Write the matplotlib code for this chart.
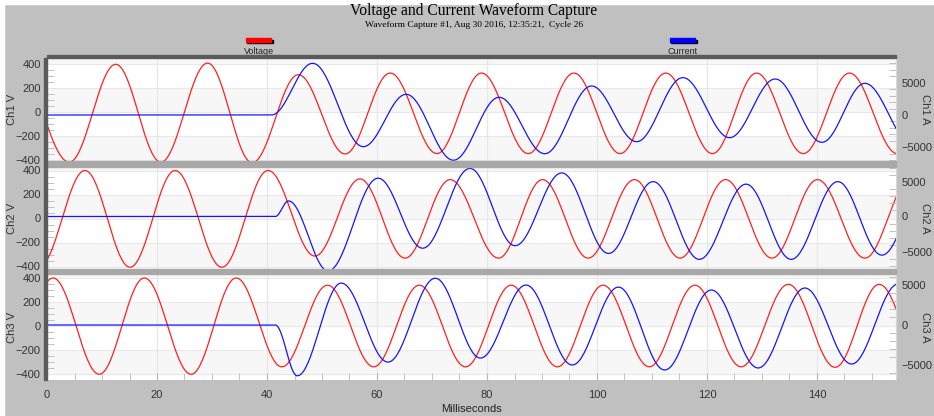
import numpy as np
import matplotlib
matplotlib.use("Agg")
import matplotlib.pyplot as plt
from matplotlib.patches import Rectangle
from matplotlib.ticker import MultipleLocator

plt.rcParams['font.family'] = ['Liberation Sans', 'DejaVu Sans']

ch1_v_t = [-5.5, 4.05, 12.5, 20.7, 29.2, 37.3, 45.7, 54.2, 62.4, 70.9, 79.0, 87.5,
           95.8, 104.2, 112.5, 121.0, 129.0, 137.5, 145.9, 154.6, 163.0]
ch1_v = [400, -415, 400, -415, 410, -420, 313, -347, 327, -344, 327, -344,
         327, -344, 327, -344, 327, -344, 327, -344, 327]
ch1_i_t = [0, 40.8, 48.3, 57.5, 65.3, 73.9, 82.2, 90.5, 99.0, 107.2, 115.6,
           124.1, 132.4, 140.9, 148.7, 157.3]
ch1_i = [0, 0, 8000, -4900, 3200, -7000, 2740, -5990, 4490, -4130, 5780,
         -3510, 5570, -4230, 4900, -4500]

ch2_v_t = [-1.4, 6.9, 15.1, 23.3, 31.8, 40.2, 48.7, 56.9, 65.1, 73.3, 82.1, 90.1,
           98.4, 106.8, 115.1, 123.4, 131.8, 140.1, 148.7, 157.0]
ch2_v = [-400, 400, -406, 400, -406, 400, -313, 330, -330, 324, -330, 324,
         -330, 324, -330, 324, -330, 324, -330, 324]
ch2_i_t = [0, 41.5, 43.9, 51.1, 60.2, 68.3, 76.9, 85.1, 93.6, 102.1, 110.2,
           118.6, 127.1, 135.3, 143.8, 151.8, 160.0]
ch2_i = [0, 0, 2220, -7770, 5475, -4530, 6870, -4170, 6225, -5280, 4980,
         -6120, 4620, -6120, 4980, -5520, 4800]

ch3_v_t = [-7.2, 1.1, 9.5, 17.7, 26.2, 34.4, 42.7, 51.0, 59.4, 67.7, 76.1, 84.4,
           92.8, 101.1, 109.5, 117.8, 126.2, 134.8, 143.3, 151.3, 159.7]
ch3_v = [-400, 400, -402, 400, -402, 400, -340, 340, -340, 340, -340, 340,
         -340, 340, -340, 340, -340, 347, -344, 347, -344]
ch3_i_t = [0, 41.5, 45.5, 53.5, 62.0, 70.6, 78.8, 87.1, 95.5, 103.9, 112.3,
           120.8, 129.3, 137.8, 146.3, 154.8]
ch3_i = [0, 0, -6300, 5200, -4600, 5800, -4100, 4960, -4960, 4700, -5580,
         4340, -5330, 4590, -4840, 5100]

channels = ["Ch1", "Ch2", "Ch3"]
x_ticks = [0, 20, 40, 60, 80, 100, 120, 140]
v_ticks = [-400, -200, 0, 200, 400]
i_ticks = [-5000, 0, 5000]


def wave(t_ext, y_ext, n=40):
    # half-cosine between successive read-off extrema
    ts, ys = [], []
    for t0, y0, t1, y1 in zip(t_ext[:-1], y_ext[:-1], t_ext[1:], y_ext[1:]):
        s = np.linspace(0, 1, n)
        ts.append(t0 + (t1 - t0) * s)
        ys.append(y0 + (y1 - y0) * (1 - np.cos(np.pi * s)) / 2)
    return np.concatenate(ts), np.concatenate(ys)


W, H = 934, 416
fig = plt.figure(figsize=(W / 100, H / 100), dpi=100, facecolor="#c0c0c0")


def box(px0, py0, px1, py1):
    # figure fraction rect from pixel box
    return [px0 / W, 1 - py1 / H, (px1 - px0) / W, (py1 - py0) / H]


fig.patches.append(Rectangle((0, 1 - 4 / H), 1, 4 / H, transform=fig.transFigure,
                             color="white", zorder=0))
fig.patches.append(Rectangle((0, 0), 4 / W, 1, transform=fig.transFigure,
                             color="white", zorder=0))

fig.text(0.5 * (352 + 595) / W, 1 - 11 / H, "Voltage and Current Waveform Capture",
         ha="center", va="center", fontsize=11.2, family="Liberation Serif")
fig.text(0.5 * (365 + 583) / W, 1 - 25 / H,
         "Waveform Capture #1, Aug 30 2016, 12:35:21,  Cycle 26",
         ha="center", va="center", fontsize=6.8, family="Liberation Serif")

# legend swatches
for cx, col, lab in [(259, "#ff0000", "Voltage"), (683, "#0000ff", "Current")]:
    fig.patches.append(Rectangle(((cx - 12) / W, 1 - 43 / H), 26 / W, 3 / H,
                                 transform=fig.transFigure, color="black", zorder=2))
    fig.patches.append(Rectangle(((cx - 13) / W, 1 - 42 / H), 25 / W, 3.5 / H,
                                 transform=fig.transFigure, color=col, zorder=3))
    fig.text(cx / W, 1 - 51 / H, lab, ha="center", va="center", fontsize=6.5,
             color="#222222")

panels = [(58, 161, 115, 32.3, 112.3), (167, 269, 216.5, 35.0, 218.5),
          (274, 380, 325, 40.3, 326)]
data = [(ch1_v_t, ch1_v, ch1_i_t, ch1_i), (ch2_v_t, ch2_v, ch2_i_t, ch2_i),
        (ch3_v_t, ch3_v, ch3_i_t, ch3_i)]

x0, x1 = 47, 896
xmax = (x1 - x0) / 5.5

for k, (top, bot, i_zero, i_px, v_zero) in enumerate(panels):
    ax = fig.add_axes(box(x0, top, x1, bot))
    v_px = 48.0 / 400
    ax.set_ylim(-(bot - v_zero) / v_px, (v_zero - top) / v_px)
    ax.set_xlim(0, xmax)
    ax.set_facecolor("white")
    for lo, hi in [(400, 1000), (0, 200), (-400, -200)]:
        ax.axhspan(lo, hi, color="#f7f7f7", zorder=0, lw=0)
    for v in v_ticks:
        ax.axhline(v, color="#e8e8e8", lw=0.8, zorder=0.5)
    for x in x_ticks[1:]:
        ax.axvline(x, color="#e8e8e8", lw=1.0, zorder=0.5)

    ax2 = ax.twinx()
    scale = 5000 / i_px
    ax2.set_ylim(-(bot - i_zero) * scale, (i_zero - top) * scale)

    vt, vv, it, iv = data[k]
    tx, ty = wave(vt, vv)
    ax.plot(tx, ty, color="#ff2020", lw=0.9, zorder=3)
    tx, ty = wave(it, iv)
    ax2.plot(tx, ty, color="#1515ff", lw=0.9, zorder=3)

    ax.set_yticks(v_ticks)
    ax.yaxis.set_minor_locator(MultipleLocator(50))
    ax2.set_yticks(i_ticks)
    ax2.yaxis.set_minor_locator(MultipleLocator(1000))
    ax.set_xticks(x_ticks)
    ax.xaxis.set_minor_locator(MultipleLocator(5))
    ax.tick_params(axis="y", which="major", direction="in", length=0, pad=4.5,
                   labelsize=8, labelcolor="#333333")
    ax.tick_params(axis="y", which="minor", direction="in", length=5,
                   color="#b8b8b8")
    ax2.tick_params(axis="y", which="major", direction="in", length=0, pad=4,
                    labelsize=8, labelcolor="#333333")
    ax2.tick_params(axis="y", which="minor", direction="in", length=5,
                    color="#b8b8b8")
    if k == 2:
        ax.tick_params(axis="x", which="both", direction="in", length=5,
                       color="#b8b8b8", labelsize=8, labelcolor="#333333", pad=7)
        ax.set_xlabel("Milliseconds", fontsize=8, color="#222222", labelpad=3)
    else:
        ax.tick_params(axis="x", which="both", length=0, labelbottom=False)

    for a in (ax, ax2):
        for sp in a.spines.values():
            sp.set_visible(False)
    ax2.spines["right"].set_visible(True)
    ax2.spines["right"].set_color("#d8d8d8")

    mid = 1 - (top + bot) / 2 / H
    fig.text(12 / W, mid, f"{channels[k]} V", rotation=90,
             ha="center", va="center", fontsize=8, color="#333333")
    fig.text(925 / W, mid, f"{channels[k]} A", rotation=270,
             ha="center", va="center", fontsize=8, color="#333333")

# separators and frame
for y0_, y1_ in [(161, 167), (269, 274)]:
    fig.patches.append(Rectangle((x0 / W, 1 - y1_ / H), (x1 - x0) / W, (y1_ - y0_) / H,
                                 transform=fig.transFigure, color="#a8a8a8", zorder=5))
fig.patches.append(Rectangle((x0 / W, 1 - 58 / H), (x1 - x0) / W, 3 / H,
                             transform=fig.transFigure, color="#5a5a5a", zorder=5))
fig.patches.append(Rectangle(((x0 - 3) / W, 1 - 380 / H), 3 / W, (380 - 58) / H,
                             transform=fig.transFigure, color="#5a5a5a", zorder=5))

fig.savefig("out.png", dpi=100, facecolor=fig.get_facecolor())
